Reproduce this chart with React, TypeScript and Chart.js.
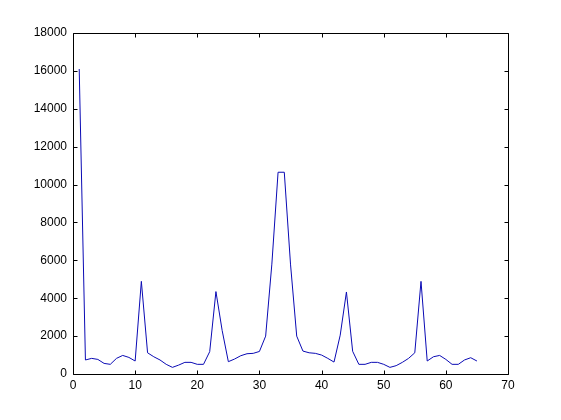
import React, { useEffect, useRef } from "react";
import { Chart, registerables } from "chart.js";

Chart.register(...registerables);

const sampleIndex = [
  1, 2, 3, 4, 5, 6, 7, 8, 9, 10, 11, 12, 13, 14, 15, 16, 17, 18, 19, 20,
  21, 22, 23, 24, 25, 26, 27, 28, 29, 30, 31, 32, 33, 34, 35, 36, 37, 38, 39, 40,
  41, 42, 43, 44, 45, 46, 47, 48, 49, 50, 51, 52, 53, 54, 55, 56, 57, 58, 59, 60,
  61, 62, 63, 64, 65,
];

const magnitude = [
  16100, 740, 825, 770, 560, 510, 825, 980, 875, 685,
  4890, 1120, 910, 740, 510, 350, 470, 615, 615, 510,
  510, 1180, 4350, 2300, 650, 790, 965, 1070, 1090, 1190,
  2000, 5800, 10650, 10650, 5800, 2000, 1210, 1120, 1090, 1000,
  825, 630, 2050, 4330, 1200, 510, 510, 615, 615, 510,
  350, 440, 615, 825, 1120, 4890, 685, 910, 980, 770,
  510, 510, 740, 860, 685,
];

const xTickValues = [0, 10, 20, 30, 40, 50, 60, 70];
const yTickValues = [0, 2000, 4000, 6000, 8000, 10000, 12000, 14000, 16000, 18000];

const FONT = "'Liberation Sans', Arial, Helvetica, sans-serif";

const boxPlugin = {
  id: "matlabBox",
  afterDraw(chart: any) {
    const { ctx, chartArea, scales } = chart;
    const { left, right, top, bottom } = chartArea;
    const tl = 4;
    ctx.save();
    ctx.strokeStyle = "#000000";
    ctx.lineWidth = 1;
    ctx.beginPath();
    ctx.rect(left + 0.5, top + 0.5, right - left, bottom - top);
    ctx.stroke();
    ctx.beginPath();
    for (const v of xTickValues) {
      const px = Math.round(scales.x.getPixelForValue(v)) + 0.5;
      ctx.moveTo(px, bottom + 0.5);
      ctx.lineTo(px, bottom + 0.5 - tl);
      ctx.moveTo(px, top + 0.5);
      ctx.lineTo(px, top + 0.5 + tl);
    }
    for (const v of yTickValues) {
      const py = Math.round(scales.y.getPixelForValue(v)) + 0.5;
      ctx.moveTo(left + 0.5, py);
      ctx.lineTo(left + 0.5 + tl, py);
      ctx.moveTo(right + 0.5, py);
      ctx.lineTo(right + 0.5 - tl, py);
    }
    ctx.stroke();
    ctx.restore();
  },
};

export default function App() {
  const canvasRef = useRef<HTMLCanvasElement | null>(null);

  useEffect(() => {
    const canvas = canvasRef.current;
    if (!canvas) return;
    const chart = new Chart(canvas, {
      type: "line",
      data: {
        datasets: [
          {
            data: sampleIndex.map((x, i) => ({ x, y: magnitude[i] })),
            borderColor: "#0a0ab4",
            borderWidth: 1,
            pointRadius: 0,
            fill: false,
            tension: 0,
          },
        ],
      },
      options: {
        animation: false,
        responsive: false,
        maintainAspectRatio: false,
        events: [],
        layout: { padding: { top: 33, right: 53, left: 0, bottom: 0 } },
        plugins: {
          legend: { display: false },
          title: { display: false },
          tooltip: { enabled: false },
        },
        scales: {
          x: {
            type: "linear",
            min: 0,
            max: 70,
            grid: { display: false, drawTicks: false },
            border: { display: false },
            afterBuildTicks: (scale: any) => {
              scale.ticks = xTickValues.map((v) => ({ value: v }));
            },
            afterFit: (scale: any) => {
              scale.height = 46;
            },
            ticks: {
              color: "#000000",
              padding: 4,
              maxRotation: 0,
              autoSkip: false,
              font: { family: FONT, size: 12 },
              callback: (v: any) => String(v),
            },
          },
          y: {
            type: "linear",
            min: 0,
            max: 18000,
            grid: { display: false, drawTicks: false },
            border: { display: false },
            afterBuildTicks: (scale: any) => {
              scale.ticks = yTickValues.map((v) => ({ value: v }));
            },
            afterFit: (scale: any) => {
              scale.width = 73;
            },
            ticks: {
              color: "#000000",
              padding: 6,
              autoSkip: false,
              font: { family: FONT, size: 12 },
              callback: (v: any) => String(v),
            },
          },
        },
      },
      plugins: [boxPlugin],
    });
    return () => chart.destroy();
  }, []);

  return (
    <div style={{ position: "fixed", left: 0, top: 0, width: 561, height: 420, background: "#ffffff" }}>
      <canvas ref={canvasRef} width={561} height={420} style={{ display: "block", width: 561, height: 420 }} />
    </div>
  );
}
